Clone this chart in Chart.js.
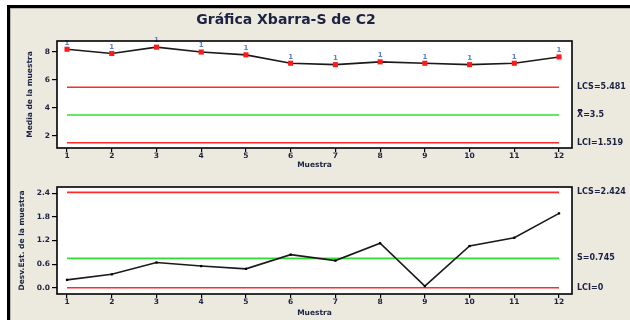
<!DOCTYPE html>
<html>
<head>
<meta charset="utf-8">
<script src="https://cdn.jsdelivr.net/npm/chart.js@4.4.1/dist/chart.umd.min.js"></script>
<style>
  html, body { margin: 0; padding: 0; background: #ffffff; }
  #frame {
    position: absolute; left: 7px; top: 5px; width: 623px; height: 315px;
    background: #ece9df; border-top: 3px solid #000; border-left: 3px solid #000;
    box-sizing: border-box; box-shadow: inset 1px 1px 0 #b9b5aa;
  }
  canvas { position: absolute; left: 0; }
  #xbar { top: 0; }
  #sdev { top: 177px; }
</style>
</head>
<body>
<div id="frame"></div>
<canvas id="xbar" width="630" height="177"></canvas>
<canvas id="sdev" width="630" height="143"></canvas>
<script>
// Subgroup numbers (Muestra)
const samples = [1, 2, 3, 4, 5, 6, 7, 8, 9, 10, 11, 12];
// Subgroup means
const xbarValues = [8.2, 7.9, 8.35, 8.0, 7.8, 7.2, 7.1, 7.3, 7.2, 7.1, 7.2, 7.65];
// Subgroup standard deviations
const sValues = [0.2, 0.34, 0.64, 0.55, 0.48, 0.84, 0.69, 1.13, 0.04, 1.06, 1.27, 1.89];
// Test-failure flags shown above each mean
const xbarFlags = ['1', '1', '1', '1', '1', '1', '1', '1', '1', '1', '1', '1'];

// Control limits, Xbar chart
const xbarLimits = [5.481, 3.5, 1.519];
const xbarLimitLabels = ['LCS=5.481', 'X\u033F=3.5', 'LCI=1.519'];
// Control limits, S chart
const sLimits = [2.424, 0.745, 0];
const sLimitLabels = ['LCS=2.424', 'S=0.745', 'LCI=0'];

// Tick values
const xbarTicks = [2, 4, 6, 8];
const sTicks = [0, 0.6, 1.2, 1.8, 2.4];

const TEXT = '#1b2242';
const RED = '#ff2b2b';
const GREEN = '#2fe02f';
const FONT = 'DejaVu Sans';

const first = samples[0], last = samples[samples.length - 1];

function limitDatasets(limits) {
  return limits.map((v, i) => ({
    data: [{ x: first, y: v }, { x: last, y: v }],
    borderColor: i === 1 ? GREEN : RED,
    borderWidth: 1.6,
    pointRadius: 0,
    order: 2
  }));
}

const frameArea = {
  id: 'frameArea',
  beforeDraw(chart) {
    const { ctx, chartArea: a } = chart;
    ctx.save();
    ctx.fillStyle = '#ffffff';
    ctx.fillRect(a.left, a.top, a.right - a.left, a.bottom - a.top);
    ctx.restore();
  },
  afterDraw(chart) {
    const { ctx, chartArea: a } = chart;
    ctx.save();
    ctx.strokeStyle = '#000';
    ctx.lineWidth = 1.6;
    ctx.strokeRect(a.left, a.top, a.right - a.left, a.bottom - a.top);
    ctx.restore();
  }
};

const limitLabels = {
  id: 'limitLabels',
  afterDraw(chart, args, opts) {
    const { ctx, chartArea: a, scales } = chart;
    ctx.save();
    ctx.fillStyle = TEXT;
    ctx.font = 'bold 8px "' + FONT + '"';
    ctx.textAlign = 'left';
    ctx.textBaseline = 'middle';
    opts.values.forEach((v, i) => {
      ctx.fillText(opts.labels[i], a.right + 5, scales.y.getPixelForValue(v));
    });
    ctx.restore();
  }
};

const flagLabels = {
  id: 'flagLabels',
  afterDatasetsDraw(chart, args, opts) {
    if (!opts.flags) return;
    const { ctx } = chart;
    const meta = chart.getDatasetMeta(chart.data.datasets.length - 1);
    ctx.save();
    ctx.fillStyle = '#5a80c8';
    ctx.font = 'bold 7px "' + FONT + '"';
    ctx.textAlign = 'center';
    ctx.textBaseline = 'bottom';
    meta.data.forEach((pt, i) => ctx.fillText(opts.flags[i], pt.x, pt.y - 3));
    ctx.restore();
  }
};

function makeOptions(cfg) {
  return {
    responsive: false,
    animation: false,
    devicePixelRatio: 1,
    layout: { padding: { left: 0, right: 58, top: cfg.padTop, bottom: 0 } },
    plugins: {
      legend: { display: false },
      tooltip: { enabled: false },
      title: cfg.title ? {
        display: true, text: cfg.title, color: TEXT,
        font: { family: FONT, size: 14, weight: 'bold' },
        padding: { top: 11.5, bottom: 12.7 }
      } : { display: false },
      limitLabels: { values: cfg.limits, labels: cfg.limitLabels },
      flagLabels: { flags: cfg.flags }
    },
    scales: {
      x: {
        type: 'linear', min: 0.776, max: 12.29,
        afterBuildTicks: s => { s.ticks = samples.map(v => ({ value: v })); },
        afterFit: s => { s.height = cfg.xHeight; },
        border: { display: false },
        grid: { drawOnChartArea: false, drawTicks: true, tickLength: 4, color: '#000', lineWidth: 1.2 },
        ticks: { color: TEXT, padding: 0, font: { family: FONT, size: 7.5, weight: 'bold' }, maxRotation: 0 },
        title: {
          display: true, text: 'Muestra', color: TEXT,
          font: { family: FONT, size: 7.5, weight: 'bold' },
          padding: { top: 0, bottom: cfg.xTitlePad }
        }
      },
      y: {
        min: cfg.yMin, max: cfg.yMax,
        afterBuildTicks: s => { s.ticks = cfg.ticks.map(v => ({ value: v })); },
        afterFit: s => { s.width = 57; },
        border: { display: false },
        grid: { drawOnChartArea: false, drawTicks: true, tickLength: 5, color: '#000', lineWidth: 1.2 },
        ticks: {
          color: TEXT, padding: 2, font: { family: FONT, size: 7.5, weight: 'bold' },
          callback: cfg.tickFmt
        },
        title: {
          display: true, text: cfg.yTitle, color: TEXT,
          font: { family: FONT, size: 7.5, weight: 'bold' },
          padding: { top: cfg.yTitlePad, bottom: 0 }
        }
      }
    }
  };
}

new Chart(document.getElementById('xbar'), {
  type: 'line',
  data: {
    datasets: [
      ...limitDatasets(xbarLimits),
      {
        data: samples.map((x, i) => ({ x, y: xbarValues[i] })),
        borderColor: '#1a1a1a', borderWidth: 1.6,
        pointStyle: 'rect', pointRadius: 3.6,
        pointBackgroundColor: '#ff1a1a', pointBorderColor: '#ff1a1a', pointBorderWidth: 0,
        order: 1
      }
    ]
  },
  options: makeOptions({
    title: 'Gráfica Xbarra-S de C2', padTop: 0,
    yMin: 1.14, yMax: 8.79, ticks: xbarTicks, tickFmt: v => String(v),
    yTitle: 'Media de la muestra', yTitlePad: 26,
    xHeight: 29, xTitlePad: 7,
    limits: xbarLimits, limitLabels: xbarLimitLabels, flags: xbarFlags
  }),
  plugins: [frameArea, limitLabels, flagLabels]
});

new Chart(document.getElementById('sdev'), {
  type: 'line',
  data: {
    datasets: [
      ...limitDatasets(sLimits),
      {
        data: samples.map((x, i) => ({ x, y: sValues[i] })),
        borderColor: '#1a1a1a', borderWidth: 1.6,
        pointStyle: 'rect', pointRadius: 1.6,
        pointBackgroundColor: '#000', pointBorderColor: '#000', pointBorderWidth: 0,
        order: 1
      }
    ]
  },
  options: makeOptions({
    title: null, padTop: 10,
    yMin: -0.16, yMax: 2.56, ticks: sTicks, tickFmt: v => v.toFixed(1),
    yTitle: 'Desv.Est. de la muestra', yTitlePad: 18,
    xHeight: 26, xTitlePad: 2.5,
    limits: sLimits, limitLabels: sLimitLabels, flags: null
  }),
  plugins: [frameArea, limitLabels, flagLabels]
});
</script>
</body>
</html>
